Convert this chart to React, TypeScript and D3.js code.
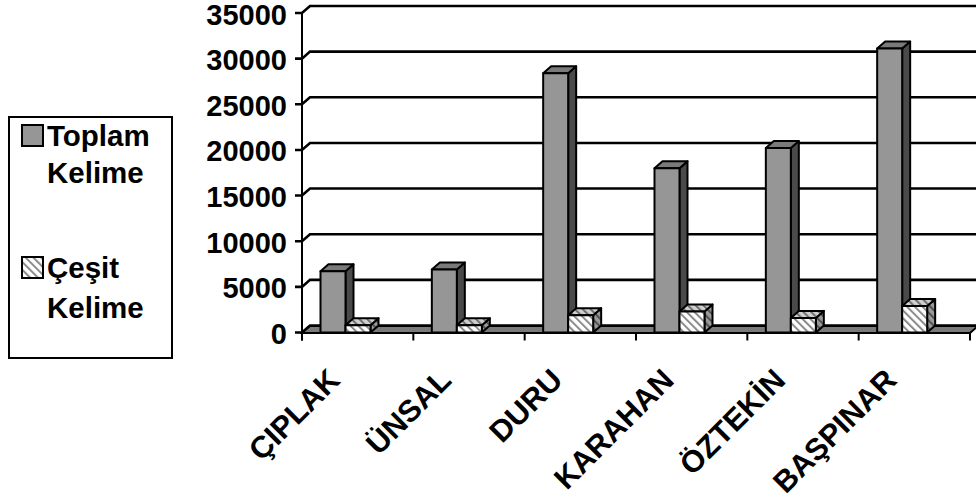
import React from 'react';
import * as d3 from 'd3';

const categories = ['ÇIPLAK', 'ÜNSAL', 'DURU', 'KARAHAN', 'ÖZTEKİN', 'BAŞPINAR'];
const seriesNames = ['Toplam Kelime', 'Çeşit Kelime'];
const toplam = [6700, 6900, 28400, 18000, 20200, 31100];
const cesit = [800, 800, 1900, 2300, 1600, 2900];
const yTicks = [0, 5000, 10000, 15000, 20000, 25000, 30000, 35000];

const W = 976;
const H = 504;
const FONT = '"Liberation Sans", Arial, Helvetica, sans-serif';
const DX = 8;
const DY = 7;

export default function App() {
  const y = d3.scaleLinear().domain([0, 35000]).range([332.5, 13]);
  const x = d3.scaleBand<string>().domain(categories).range([302, 970]).padding(0);
  const bw = 25;
  const off = 18.5;
  const series = [toplam, cesit];

  const boxPath = (x0: number, yTop: number, yBot: number) => {
    const front = `M${x0},${yTop}H${x0 + bw}V${yBot}H${x0}Z`;
    const side = `M${x0 + bw},${yTop}L${x0 + bw + DX},${yTop - DY}V${yBot - DY}L${x0 + bw},${yBot}Z`;
    const top = `M${x0},${yTop}L${x0 + DX},${yTop - DY}H${x0 + bw + DX}L${x0 + bw},${yTop}Z`;
    return { front, side, top };
  };

  const fills = [
    { front: '#969696', side: '#4a4a4a', top: '#7a7a7a' },
    { front: 'url(#hatchFront)', side: 'url(#hatchSide)', top: 'url(#hatchTop)' },
  ];

  const y0 = y(0);
  const xEnd = x.range()[1];

  return (
    <svg width={W} height={H} style={{ position: 'absolute', left: 0, top: 0, background: '#fff' }}>
      <defs>
        <pattern id="hatchFront" patternUnits="userSpaceOnUse" width="5.5" height="5.5" patternTransform="rotate(-45)">
          <rect width="5.5" height="5.5" fill="#ffffff" />
          <rect width="2" height="5.5" fill="#8a8a8a" />
        </pattern>
        <pattern id="hatchSide" patternUnits="userSpaceOnUse" width="5.5" height="5.5" patternTransform="rotate(-45)">
          <rect width="5.5" height="5.5" fill="#9a9a9a" />
          <rect width="2" height="5.5" fill="#505050" />
        </pattern>
        <pattern id="hatchTop" patternUnits="userSpaceOnUse" width="5.5" height="5.5" patternTransform="rotate(-45)">
          <rect width="5.5" height="5.5" fill="#d0d0d0" />
          <rect width="2" height="5.5" fill="#707070" />
        </pattern>
      </defs>

      {/* gridlines on back wall */}
      <g fill="none" stroke="#000">
        {yTicks.map((t) => (
          <path key={t} d={`M295,${y(t)}H302L${302 + DX},${y(t) - DY}H${xEnd + DX}`} strokeWidth={2.6} />
        ))}
      </g>

      {/* floor */}
      <path
        d={`M302,${y0 + 0.5}L${302 + DX},${y0 - DY + 0.5}H${xEnd + DX}L${xEnd},${y0 + 0.5}Z`}
        fill="#7a7a7a"
        stroke="#000"
        strokeWidth={2}
      />

      {/* category ticks and axes */}
      <g stroke="#000" strokeWidth={2}>
        {[...categories.map((c) => x(c) as number), xEnd].map((v, i) => (
          <line key={i} x1={v} x2={v} y1={y0} y2={y0 + 8} />
        ))}
        <line x1={302} x2={xEnd} y1={y0 + 0.5} y2={y0 + 0.5} />
        <line x1={302} x2={302} y1={y(35000)} y2={y0 + 8} />
      </g>

      {/* bars */}
      <g stroke="#000" strokeWidth={2} strokeLinejoin="round">
        {categories.map((c, i) =>
          series.map((s, j) => {
            const x0 = (x(c) as number) + off + j * bw;
            const p = boxPath(x0, y(s[i]), y0);
            return (
              <g key={`${c}-${j}`}>
                <path d={p.side} fill={fills[j].side} />
                <path d={p.top} fill={fills[j].top} />
                <path d={p.front} fill={fills[j].front} />
              </g>
            );
          })
        )}
      </g>

      {/* y tick labels */}
      <g fontFamily={FONT} fontWeight="bold" fontSize={29} textAnchor="end">
        {yTicks.map((t) => (
          <text key={t} x={287} y={y(t) + 11.5}>
            {t}
          </text>
        ))}
      </g>

      {/* category labels */}
      <g fontFamily={FONT} fontWeight="bold" fontSize={30.5} textAnchor="end">
        {categories.map((c) => {
          const cx = (x(c) as number) + x.bandwidth() / 2 - 16;
          const cy = 382;
          return (
            <text key={c} transform={`translate(${cx},${cy}) rotate(-45)`}>
              {c}
            </text>
          );
        })}
      </g>

      {/* legend */}
      <rect x={9} y={117} width={163} height={241} fill="#fff" stroke="#000" strokeWidth={2} />
      <g fontFamily={FONT} fontWeight="bold" fontSize={29.5}>
        <rect x={22} y={125} width={21} height={21} fill="#969696" stroke="#000" strokeWidth={2} />
        <text x={47} y={146}>Toplam</text>
        <text x={47} y={183}>Kelime</text>
        <rect x={22} y={257} width={21} height={21} fill="url(#hatchFront)" stroke="#000" strokeWidth={2} />
        <text x={47} y={278}>Çeşit</text>
        <text x={47} y={318}>Kelime</text>
      </g>
      <title>{seriesNames.join(', ')}</title>
    </svg>
  );
}
